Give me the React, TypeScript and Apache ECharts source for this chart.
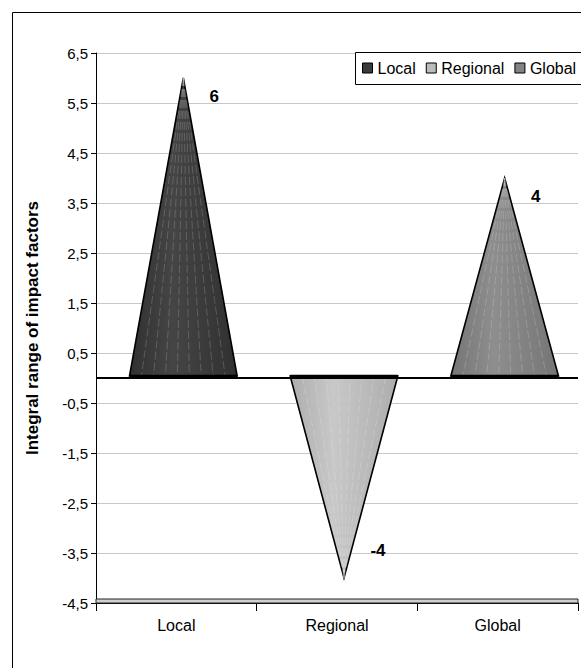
import React, { useEffect, useRef } from "react";
import * as echarts from "echarts";

const categories = ["Local", "Regional", "Global"];
const values = [6, -4, 4];
const seriesNames = ["Local", "Regional", "Global"];
const seriesColors = ["#3a3a3a", "#bcbcbc", "#838383"];
const lightColors = ["#454545", "#c8c8c8", "#8e8e8e"];
const darkColors = ["#303030", "#adadad", "#757575"];
const yMin = -4.5;
const yMax = 6.5;
const yInterval = 1;
const yTitle = "Integral range of impact factors";

const FONT = "Arial, 'Liberation Sans', sans-serif";

export default function App() {
  const ref = useRef<HTMLDivElement>(null);
  useEffect(() => {
    if (!ref.current) return;
    const chart = echarts.init(ref.current, null, { renderer: "svg" });

    const renderItem = (si: number) => (params: any, api: any) => {
      const idx = api.value(0);
      const val = api.value(1);
      const base = api.coord([idx, 0]);
      const top = api.coord([idx, val]);
      const bw = api.size([1, 0])[0];
      const half = bw * 0.335;
      const cx = base[0] + 7;
      const by = base[1] - 2;
      const ay = top[1];
      const children: any[] = [];
      children.push({
        type: "polygon",
        shape: { points: [[cx - half, by], [cx + half, by], [cx, ay]] },
        style: {
          fill: new echarts.graphic.LinearGradient(0, 0, 1, 0, [
            { offset: 0, color: darkColors[si] },
            { offset: 0.4, color: lightColors[si] },
            { offset: 1, color: darkColors[si] },
          ]),
          stroke: "#000",
          lineWidth: 1.6,
        },
      });
      const n = 9;
      for (let k = 1; k < n; k++) {
        const bx = cx - half + (2 * half * k) / n;
        children.push({
          type: "line",
          shape: { x1: cx, y1: ay, x2: bx, y2: by },
          style: {
            stroke: "rgba(255,255,255,0.22)",
            lineWidth: 0.8,
            lineDash: [8, 3],
          },
          silent: true,
        });
      }
      children.push({
        type: "line",
        shape: { x1: cx - half, y1: by, x2: cx + half, y2: by },
        style: { stroke: "#000", lineWidth: 2.5 },
      });
      const pos = val >= 0;
      children.push({
        type: "text",
        style: {
          text: String(val),
          x: pos ? cx + 31 : cx + 34,
          y: pos ? ay + 18 : ay - 28,
          font: `bold 17px ${FONT}`,
          fill: "#000",
          align: "center",
          verticalAlign: "middle",
        },
      });
      return { type: "group", children };
    };

    const series: any[] = seriesNames.map((name, i) => {
      const s: any = {
        name,
        type: "custom",
        renderItem: renderItem(i),
        itemStyle: { color: seriesColors[i] },
        encode: { x: 0, y: 1 },
        data: [[i, values[i]]],
        z: 3,
      };
      if (i === 0) {
        s.markLine = {
          silent: true,
          symbol: "none",
          label: { show: false },
          lineStyle: { color: "#000", width: 2, type: "solid" },
          data: [{ yAxis: 0 }],
        };
        s.markArea = {
          silent: true,
          itemStyle: { color: "#d0d0d0", borderColor: "#222", borderWidth: 1 },
          data: [[{ yAxis: yMin }, { yAxis: yMin + 0.08 }]],
        };
      }
      return s;
    });

    chart.setOption({
      animation: false,
      backgroundColor: "#fff",
      textStyle: { fontFamily: FONT },
      graphic: [
        {
          type: "rect",
          shape: { x: 12.5, y: 12.5, width: 620, height: 700 },
          style: { fill: "none", stroke: "#000", lineWidth: 1 },
          z: 0,
          silent: true,
        },
        {
          type: "rect",
          shape: { x: 355.5, y: 52.5, width: 240, height: 32 },
          style: { fill: "#fff", stroke: "#000", lineWidth: 1 },
          z: 5,
          silent: true,
        },
      ],
      legend: {
        left: 362,
        top: 60,
        padding: 0,
        z: 6,
        icon: "rect",
        itemWidth: 10,
        itemHeight: 10,
        itemGap: 10,
        textStyle: { fontSize: 16, color: "#000", fontFamily: FONT },
        data: seriesNames.map((n, i) => ({
          name: n,
          itemStyle: { color: seriesColors[i], borderColor: "#000", borderWidth: 1 },
        })),
      },
      grid: { left: 96, right: 3, top: 53, bottom: 65, containLabel: false },
      xAxis: {
        type: "category",
        data: categories,
        axisLine: { onZero: false, lineStyle: { color: "#000", width: 1 } },
        axisTick: { show: true, length: 8, lineStyle: { color: "#000" } },
        axisLabel: { color: "#000", fontSize: 16, margin: 14, fontFamily: FONT },
        splitLine: { show: false },
      },
      yAxis: {
        type: "value",
        min: yMin,
        max: yMax,
        interval: yInterval,
        name: yTitle,
        nameLocation: "middle",
        nameRotate: 90,
        nameGap: 55,
        nameTextStyle: { fontSize: 17, fontWeight: "bold", color: "#000", fontFamily: FONT },
        axisLine: { show: true, lineStyle: { color: "#000", width: 1 } },
        axisTick: { show: true, length: 5, lineStyle: { color: "#000" } },
        axisLabel: {
          color: "#000",
          fontSize: 15,
          margin: 8,
          fontFamily: FONT,
          formatter: (v: number) => v.toFixed(1).replace(".", ","),
        },
        splitLine: { show: true, lineStyle: { color: "#c8c8c8", width: 1 } },
      },
      series,
    });
    return () => chart.dispose();
  }, []);
  return (
    <div
      ref={ref}
      style={{ position: "fixed", left: 0, top: 0, width: 581, height: 668, background: "#fff" }}
    />
  );
}
